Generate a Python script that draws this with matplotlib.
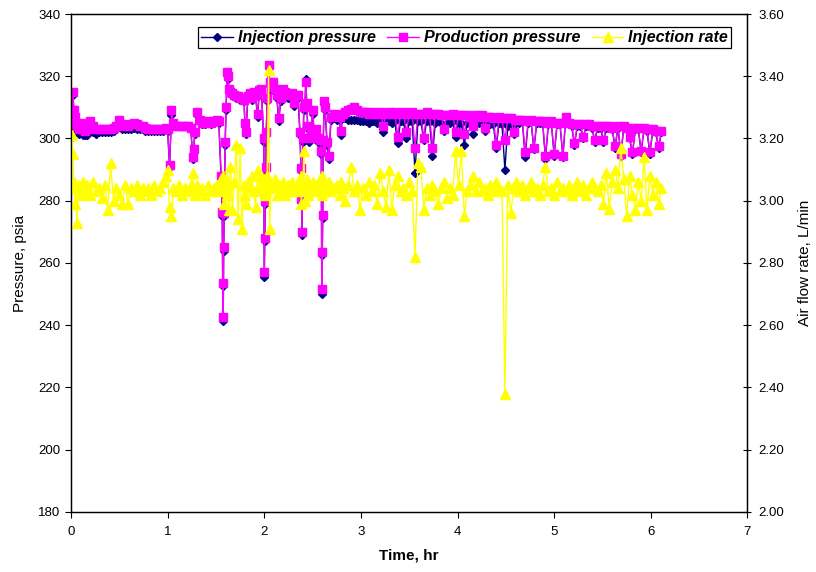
import matplotlib
matplotlib.use('Agg')
import matplotlib.pyplot as plt

plt.rcParams['font.family'] = ['Liberation Sans', 'DejaVu Sans']

# elapsed time, hr
time_hr = [
    0.00, 0.01, 0.02, 0.03, 0.04, 0.05, 0.06, 0.08, 0.10, 0.12, 0.14,
    0.17, 0.20, 0.23, 0.26, 0.29, 0.32, 0.35, 0.38, 0.41, 0.44,
    0.47, 0.50, 0.53, 0.56, 0.59, 0.62, 0.65, 0.68, 0.71, 0.74,
    0.77, 0.80, 0.83, 0.86, 0.89, 0.92, 0.95, 0.98,
    1.00, 1.02, 1.04, 1.06, 1.09, 1.12, 1.15, 1.18, 1.21, 1.24,
    1.26, 1.27, 1.28, 1.30, 1.33, 1.36, 1.39, 1.42, 1.45, 1.48, 1.51, 1.53,
    1.555, 1.565, 1.570, 1.575, 1.580, 1.585, 1.595, 1.605, 1.615, 1.625, 1.635,
    1.65, 1.67, 1.69, 1.71, 1.73, 1.75, 1.77, 1.79, 1.80, 1.81,
    1.83, 1.85, 1.87, 1.89, 1.91, 1.93, 1.95, 1.97,
    1.995, 2.000, 2.005, 2.010, 2.015, 2.020, 2.030, 2.045, 2.055, 2.07,
    2.09, 2.11, 2.13, 2.15, 2.17, 2.19, 2.21, 2.23, 2.25, 2.27, 2.29, 2.31, 2.33, 2.35,
    2.37, 2.38, 2.385, 2.39, 2.40, 2.41, 2.42, 2.43, 2.44, 2.45,
    2.46, 2.48, 2.50, 2.52, 2.54, 2.56, 2.58,
    2.59, 2.595, 2.60, 2.605, 2.61, 2.62, 2.63, 2.65, 2.67, 2.69,
    2.72, 2.75, 2.78, 2.79, 2.81, 2.84, 2.87, 2.90, 2.93, 2.96, 2.99,
    3.02, 3.05, 3.08, 3.11, 3.14, 3.17, 3.20, 3.23, 3.26, 3.29,
    3.32, 3.35, 3.38, 3.41, 3.44, 3.47, 3.50, 3.53, 3.56, 3.59,
    3.62, 3.65, 3.68, 3.71, 3.74, 3.77, 3.80, 3.83, 3.86, 3.89,
    3.92, 3.95, 3.98, 4.01, 4.04, 4.07, 4.10, 4.13, 4.16, 4.19,
    4.22, 4.25, 4.28, 4.31, 4.34, 4.37, 4.40, 4.43, 4.46, 4.49,
    4.52, 4.55, 4.58, 4.61, 4.64, 4.67, 4.70, 4.73, 4.76, 4.79,
    4.82, 4.85, 4.88, 4.91, 4.94, 4.97, 5.00, 5.03, 5.06, 5.09,
    5.12, 5.15, 5.18, 5.21, 5.24, 5.27, 5.30, 5.33, 5.36, 5.39,
    5.42, 5.45, 5.48, 5.51, 5.54, 5.57, 5.60, 5.63, 5.66, 5.69,
    5.72, 5.75, 5.78, 5.81, 5.84, 5.87, 5.90, 5.93, 5.96, 5.99,
    6.02, 6.05, 6.08, 6.11,
]

# injection pressure, psia
inj_pressure = [
    300, 307, 314, 308, 306, 303, 302, 301.5, 304, 301, 301,
    301, 303, 302, 301.5, 302, 302, 302, 302, 302, 302.5,
    303, 304, 303, 303, 303, 303, 303.5, 303, 303, 303,
    302.5, 302.5, 302.5, 302.5, 302.5, 302.5, 302.5, 303,
    302.5, 291, 307.5, 304.5, 304, 304, 304, 304, 304, 303,
    293.5, 296, 301.5, 307.5, 305.5, 304.5, 304.5, 305, 304.5, 305, 305.5, 305,
    286, 275, 252.5, 241.5, 264, 275, 298, 309, 320.5, 319, 315,
    314.5, 314, 313.5, 313, 313, 312.5, 312.5, 312, 304.5, 301.5,
    313, 314, 312.5, 314.5, 313.5, 307, 315, 315.5,
    299, 255.5, 267, 279, 290, 301, 312, 322.5, 317, 315.5,
    316.5, 315, 313, 305.5, 312, 315, 314, 313.5, 313, 313, 313.5, 310.5, 313, 313,
    301, 289.5, 279.5, 269, 299, 309, 310, 319, 310.5, 303,
    299, 301, 308, 300, 302, 299, 298.5,
    295, 250, 262.5, 274.5, 298.5, 311, 309, 298, 293.5, 306,
    306.5, 306, 306, 301, 306.5, 306.5, 306, 306, 306, 306, 305.5,
    305.5, 305.5, 305, 305.5, 305.5, 305, 305.5, 302, 305.5, 305.5,
    305, 305.5, 298.5, 305.5, 305.5, 300, 305.5, 305.5, 289, 305.5,
    305.5, 299.5, 305.5, 305.5, 294.5, 305, 305.5, 305, 302.5, 305,
    305, 305.5, 300.5, 305, 305, 298, 305, 305, 301.5, 305,
    305, 305, 302.5, 305, 304.5, 304.5, 297, 305, 304.5, 290,
    304, 304, 301.5, 305, 305, 305.5, 294, 305, 305.5, 296.5,
    305, 305, 305, 293.5, 304.5, 305, 294.5, 304.5, 304.5, 294,
    306.5, 304.5, 304, 298, 304, 304, 300, 304, 304, 303.5,
    299, 303.5, 303.5, 299, 303.5, 303.5, 303, 297, 303.5, 294.5,
    303.5, 303, 300, 295, 303, 303, 295.5, 303, 302.5, 295,
    302.5, 302, 297, 302,
]

# production pressure, psia
prod_pressure = [
    305, 309, 315, 309, 307, 305, 304, 303, 305, 303, 302.5,
    303, 305.5, 304, 303, 303, 303, 303, 303, 303, 303.5,
    304, 306, 304.5, 304, 304, 304.5, 305, 304.5, 304, 304,
    303.5, 303, 303, 303, 303, 303, 303, 303.5,
    303, 291.5, 309, 305, 304, 304, 304, 304, 304, 303.5,
    294, 296.5, 302, 308.5, 306, 305, 305, 305.5, 305, 305.5, 306, 305.5,
    288, 276.5, 253.5, 242.5, 265, 276, 299, 310, 321.5, 320, 316,
    315, 314.5, 314, 313.5, 313.5, 313, 313, 312.5, 305, 302,
    313.5, 314.5, 313, 315, 314, 308, 315.5, 316,
    300, 257, 268, 280, 291, 302, 313, 323.5, 318, 316.5,
    318, 316, 314, 306.5, 313, 316, 315, 314.5, 314, 314, 314.5, 311.5, 314, 314,
    302, 290.5, 280.5, 270, 300, 310, 311, 318, 311.5, 304,
    300, 302, 309, 301, 303, 300, 299.5,
    296, 251.5, 263.5, 275.5, 299.5, 312, 310, 299, 294.5, 307,
    308, 307.5, 307, 302.5, 308, 308.5, 309, 309.5, 310, 309, 308.5,
    308.5, 308.5, 308, 308.5, 308, 308, 308.5, 304, 308, 308.5,
    308, 308.5, 300.5, 308, 308.5, 302, 308, 308.5, 297, 308,
    308, 300, 308.5, 308, 297, 308, 308, 307.5, 303, 307.5,
    307.5, 308, 302, 307.5, 307.5, 301.5, 307.5, 307, 304, 307.5,
    307, 307.5, 303.5, 307, 307, 306.5, 298, 307, 306.5, 299.5,
    306.5, 306.5, 302, 306, 306, 306, 295.5, 305.5, 306, 297,
    305.5, 305.5, 305.5, 294.5, 305, 305.5, 295, 305, 305, 294.5,
    307, 305, 304.5, 298.5, 304.5, 304.5, 300.5, 304.5, 304.5, 304,
    299.5, 304, 304, 299.5, 304, 304, 303.5, 297.5, 304, 295,
    304, 303.5, 300.5, 295.5, 303.5, 303.5, 296, 303.5, 303, 295.5,
    303, 302.5, 297.5, 302.5,
]

# injection (air flow) rate, L/min
inj_rate = [
    3.05, 3.21, 3.15, 3.06, 2.99, 3.04, 2.93, 3.05, 3.02, 3.06, 3.03,
    3.05, 3.02, 3.06, 3.03, 3.04, 3.01, 3.05, 2.97, 3.12, 3.00,
    3.04, 3.02, 2.99, 3.05, 2.99, 3.04, 3.03, 3.05, 3.02, 3.04,
    3.03, 3.04, 3.02, 3.05, 3.03, 3.04, 3.06, 3.08,
    3.10, 2.98, 2.95, 3.04, 3.03, 3.05, 3.02, 3.04, 3.03, 3.05,
    3.09, 3.04, 3.02, 3.05, 3.03, 3.04, 3.02, 3.05, 3.03, 3.04, 3.05, 3.03,
    3.07, 3.05, 3.08, 3.03, 3.06, 2.99, 3.04, 3.07, 3.02, 3.05, 2.97,
    3.11, 2.97, 3.06, 3.18, 2.94, 3.17, 2.91, 3.05, 3.02, 2.99,
    3.06, 3.04, 3.08, 3.03, 2.98, 3.10, 3.04, 3.08,
    3.03, 3.07, 3.05, 3.02, 3.06, 3.04, 3.08, 3.42, 2.91, 3.05,
    3.04, 3.07, 3.02, 3.05, 3.03, 3.06, 3.02, 3.04, 3.05, 3.03, 3.06, 3.03, 3.04, 3.06,
    3.03, 3.08, 2.99, 3.06, 3.05, 3.16, 3.00, 3.04, 3.07, 3.02,
    3.05, 3.04, 3.06, 3.03, 3.05, 3.04, 3.07,
    3.04, 3.08, 3.02, 3.06, 3.07, 3.03, 3.05, 3.04, 3.06, 3.03,
    3.04, 3.05, 3.02, 3.06, 3.04, 3.00, 3.05, 3.11, 3.03, 3.05, 2.97,
    3.04, 3.02, 3.06, 3.03, 3.05, 2.99, 3.09, 3.03, 2.98, 3.10,
    2.97, 3.05, 3.08, 3.03, 3.04, 3.02, 3.06, 3.03, 2.82, 3.12,
    3.11, 2.97, 3.04, 3.02, 3.05, 3.03, 2.99, 3.04, 3.06, 3.01,
    3.04, 3.02, 3.16, 3.05, 3.16, 2.95, 3.03, 3.05, 3.08, 3.03,
    3.06, 3.03, 3.04, 3.02, 3.05, 3.03, 3.06, 3.04, 3.03, 2.38,
    3.05, 2.96, 3.04, 3.06, 3.03, 3.05, 3.02, 3.04, 3.06, 3.03,
    3.04, 3.02, 3.05, 3.11, 3.03, 3.04, 3.02, 3.06, 3.03, 3.04,
    3.03, 3.05, 3.02, 3.04, 3.06, 3.03, 3.05, 3.02, 3.04, 3.06,
    3.04, 3.03, 3.05, 2.99, 3.09, 2.975, 3.06, 3.10, 3.04, 3.17,
    3.07, 2.95, 3.08, 3.02, 2.97, 3.06, 3.00, 3.14, 2.97, 3.08,
    3.02, 3.06, 2.99, 3.04,
]

assert len(time_hr) == len(inj_pressure) == len(prod_pressure) == len(inj_rate)

fig = plt.figure(figsize=(8.16, 5.72), dpi=100)
ax = fig.add_axes([0.087, 0.105, 0.829, 0.8705])
ax2 = ax.twinx()

l1, = ax.plot(time_hr, inj_pressure, color='#000080', lw=1, marker='D',
              markersize=4, label='Injection pressure')
l2, = ax.plot(time_hr, prod_pressure, color='#FF00FF', lw=1, marker='s',
              markersize=6, label='Production pressure')
l3, = ax2.plot(time_hr, inj_rate, color='#FFFF00', lw=1, marker='^',
               markersize=7, label='Injection rate')

ax.set_xlim(0, 7)
ax.set_ylim(180, 340)
ax2.set_ylim(2.0, 3.6)
ax.set_xticks(range(0, 8))
ax.set_yticks(range(180, 341, 20))
ax2.set_yticks([2.0 + 0.2 * i for i in range(9)])
ax2.set_yticklabels(['%.2f' % (2.0 + 0.2 * i) for i in range(9)])

ax.tick_params(axis='both', direction='out', length=4, labelsize=9.5)
ax.tick_params(axis='x', pad=6)
ax2.tick_params(axis='y', direction='inout', length=6, labelsize=9.5, pad=5)

ax.set_xlabel('Time, hr', fontsize=11, fontweight='bold', labelpad=8)
ax.set_ylabel('Pressure, psia', fontsize=11, labelpad=8)
ax2.set_ylabel('Air flow rate, L/min', fontsize=11, labelpad=10)

for a in (ax, ax2):
    for s in a.spines.values():
        s.set_linewidth(0.9)

leg = ax2.legend(handles=[l1, l2, l3], ncol=3, loc='upper right',
                 bbox_to_anchor=(0.976, 0.974), borderaxespad=0,
                 frameon=True, fancybox=False,
                 edgecolor='black', framealpha=1, borderpad=0.2,
                 handlelength=2.0, handletextpad=0.3, columnspacing=0.7,
                 prop={'weight': 'bold', 'style': 'italic', 'size': 11.5})
leg.get_frame().set_linewidth(0.9)

fig.savefig('out.png', dpi=100)
